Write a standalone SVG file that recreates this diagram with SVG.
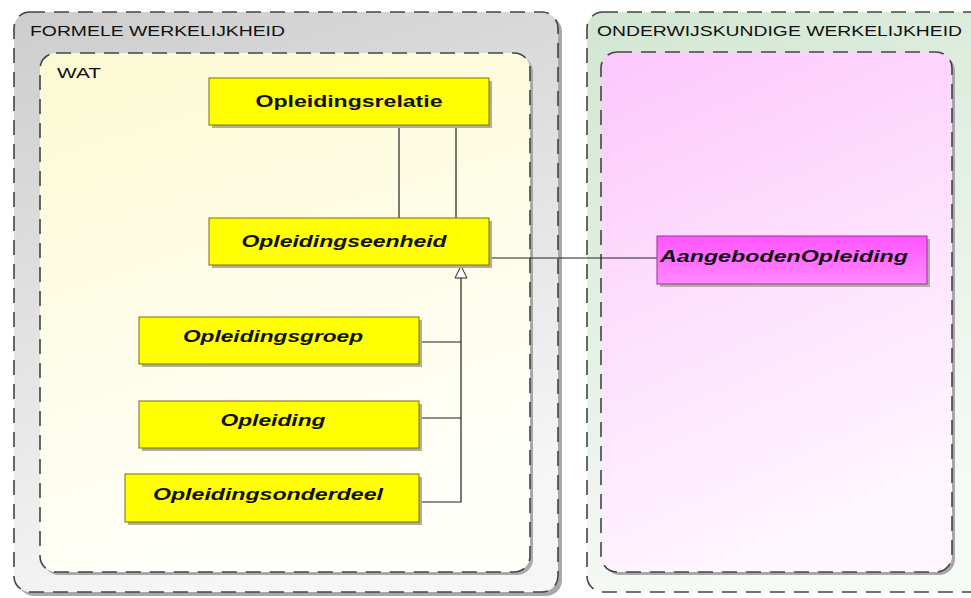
<svg xmlns="http://www.w3.org/2000/svg" width="971" height="598" viewBox="0 0 971 598">
<defs>
<linearGradient id="gGray" x1="0" y1="0" x2="0.3" y2="1"><stop offset="0" stop-color="#cdcdcd"/><stop offset="1" stop-color="#f6f6f6"/></linearGradient>
<linearGradient id="gYel" x1="0" y1="0" x2="0.3" y2="1"><stop offset="0" stop-color="#fcfad2"/><stop offset="1" stop-color="#fffffa"/></linearGradient>
<linearGradient id="gGreen" x1="0" y1="0" x2="0.3" y2="1"><stop offset="0" stop-color="#d2e6d2"/><stop offset="1" stop-color="#f6faf6"/></linearGradient>
<linearGradient id="gPink" x1="0" y1="0" x2="0.3" y2="1"><stop offset="0" stop-color="#fcc8fc"/><stop offset="1" stop-color="#fff6ff"/></linearGradient>
<linearGradient id="gMag" x1="0" y1="0" x2="0" y2="1"><stop offset="0" stop-color="#ff55ff"/><stop offset="1" stop-color="#ff88ff"/></linearGradient>
<marker id="gen" markerWidth="14" markerHeight="14" refX="13" refY="7" orient="auto" markerUnits="userSpaceOnUse" viewBox="0 0 14 14">
<path d="M1,1 L13,7 L1,13 Z" fill="#ffffff" stroke="#222" stroke-width="1"/>
</marker>
</defs>
<style>
.pkgdash{fill:none;stroke:#444;stroke-width:1.6;stroke-dasharray:15 9}
.shadow{fill:#a8a8a8}
.cls{fill:#ffff00;stroke:#7a7000;stroke-width:1}
.clsShadow{fill:#b0b0a0}
.mag{fill:url(#gMag);stroke:#993399;stroke-width:1}
.lbl{font-family:"Liberation Sans",Arial,sans-serif;font-size:15px;fill:#111}
.ctext{font-family:"Liberation Sans",Arial,sans-serif;font-size:16px;font-weight:bold;fill:#111;text-anchor:middle}
.it{font-style:italic}
.conn{fill:none;stroke:#222;stroke-width:1.2}
</style>
<rect width="971" height="598" fill="#ffffff"/>

<g id="pkg-formele">
<rect x="18" y="16" width="544" height="580" rx="16" class="shadow"/>
<rect x="14" y="12" width="544" height="580" rx="16" fill="url(#gGray)"/>
<rect x="14" y="12" width="544" height="580" rx="16" class="pkgdash"/>
<text x="30" y="36" class="lbl" textLength="255" lengthAdjust="spacingAndGlyphs">FORMELE WERKELIJKHEID</text>
</g>

<g id="pkg-wat">
<rect x="43" y="56" width="490" height="519" rx="16" class="shadow"/>
<rect x="40" y="53" width="490" height="519" rx="16" fill="url(#gYel)"/>
<rect x="40" y="53" width="490" height="519" rx="16" class="pkgdash"/>
<text x="57" y="78" class="lbl" textLength="44" lengthAdjust="spacingAndGlyphs">WAT</text>
</g>

<g id="pkg-onderwijs">
<rect x="587" y="12" width="400" height="580" rx="16" fill="url(#gGreen)"/>
<rect x="587" y="12" width="400" height="580" rx="16" class="pkgdash"/>
<text x="597" y="36" class="lbl" textLength="365" lengthAdjust="spacingAndGlyphs">ONDERWIJSKUNDIGE WERKELIJKHEID</text>
</g>

<g id="pkg-onderwijs-inner">
<rect x="604" y="55" width="351" height="520" rx="16" class="shadow"/>
<rect x="601" y="52" width="351" height="520" rx="16" fill="url(#gPink)"/>
<rect x="601" y="52" width="351" height="520" rx="16" class="pkgdash"/>
</g>

<g id="connectors">
<line x1="399" y1="125" x2="399" y2="218" class="conn"/>
<line x1="456" y1="125" x2="456" y2="218" class="conn"/>
<line x1="489" y1="258" x2="657" y2="258" class="conn"/>
<path d="M419,342 H461 M419,418 H461 M419,502 H461 V266" class="conn" marker-end="url(#gen)"/>
</g>

<g id="node-opleidingsrelatie">
<rect x="212" y="81" width="280" height="47" class="clsShadow"/>
<rect x="209" y="78" width="280" height="47" class="cls"/>
<text x="349" y="107" class="ctext" textLength="187" lengthAdjust="spacingAndGlyphs">Opleidingsrelatie</text>
</g>

<g id="node-opleidingseenheid">
<rect x="212" y="221" width="280" height="47" class="clsShadow"/>
<rect x="209" y="218" width="280" height="47" class="cls"/>
<text x="344" y="247" class="ctext it" textLength="205" lengthAdjust="spacingAndGlyphs">Opleidingseenheid</text>
</g>

<g id="node-opleidingsgroep">
<rect x="142" y="320" width="280" height="47" class="clsShadow"/>
<rect x="139" y="317" width="280" height="47" class="cls"/>
<text x="273" y="342" class="ctext it" textLength="180" lengthAdjust="spacingAndGlyphs">Opleidingsgroep</text>
</g>

<g id="node-opleiding">
<rect x="142" y="404" width="280" height="47" class="clsShadow"/>
<rect x="139" y="401" width="280" height="47" class="cls"/>
<text x="273" y="426" class="ctext it" textLength="105" lengthAdjust="spacingAndGlyphs">Opleiding</text>
</g>

<g id="node-opleidingsonderdeel">
<rect x="128" y="477" width="294" height="48" class="clsShadow"/>
<rect x="125" y="474" width="294" height="48" class="cls"/>
<text x="268" y="500" class="ctext it" textLength="230" lengthAdjust="spacingAndGlyphs">Opleidingsonderdeel</text>
</g>

<g id="node-aangebodenopleiding">
<rect x="660" y="239" width="270" height="48" class="clsShadow"/>
<rect x="657" y="236" width="270" height="48" class="mag"/>
<text x="784" y="262" class="ctext it" textLength="248" lengthAdjust="spacingAndGlyphs">AangebodenOpleiding</text>
</g>
</svg>
